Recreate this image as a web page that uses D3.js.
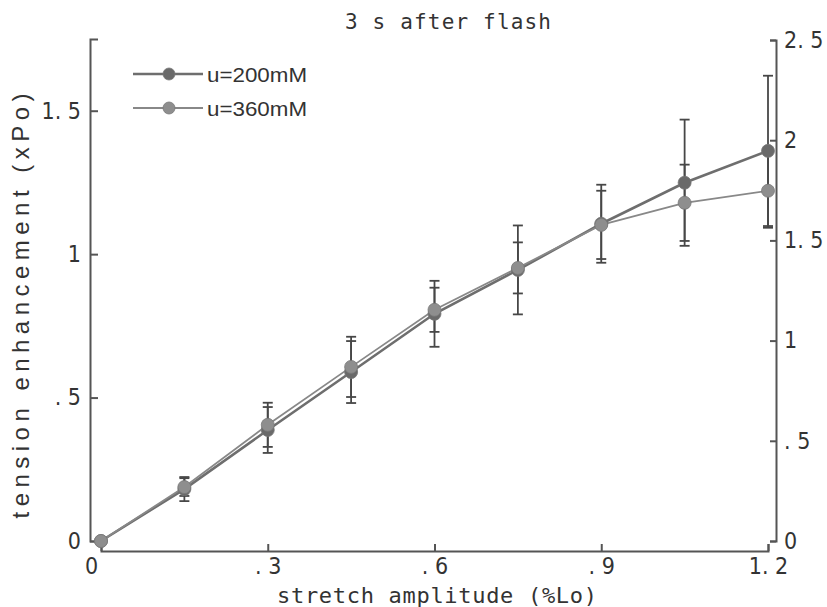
<!DOCTYPE html>
<html>
<head>
<meta charset="utf-8">
<script src="https://cdn.jsdelivr.net/npm/d3@7"></script>
<style>
  body { margin: 0; background: #fff; }
  .tick text { fill: #333; font-family: "Liberation Sans Narrow", "DejaVu Sans Condensed", "Liberation Sans", sans-serif; font-size: 23px; }
  .domain, .tick line { stroke: #555; stroke-width: 2; }
</style>
</head>
<body>
<div id="chart"></div>
<script>
// stretch amplitude (%Lo)
const amplitude = [0, 0.15, 0.3, 0.45, 0.6, 0.75, 0.9, 1.05, 1.2];
// tension enhancement (xPo), u=200mM
const mean200 = [0, 0.181, 0.387, 0.589, 0.792, 0.945, 1.106, 1.249, 1.360];
const err200  = [0, 0.042, 0.080, 0.108, 0.115, 0.155, 0.136, 0.220, 0.262];
// u=360mM
const mean360 = [0, 0.188, 0.405, 0.607, 0.806, 0.952, 1.102, 1.179, 1.221];
const err360  = [0, 0.031, 0.077, 0.105, 0.077, 0.089, 0.119, 0.133, 0.129];

const xTicks = [0, 0.3, 0.6, 0.9, 1.2];
const xTickLabels = ["0", ". 3", ". 6", ". 9", "1. 2"];
const yTicks = [0, 0.5, 1, 1.5];
const yTickLabels = ["0", ". 5", "1", "1. 5"];
const y2Ticks = [0, 0.5, 1, 1.5, 2, 2.5];
const y2TickLabels = ["0", ". 5", "1", "1. 5", "2", "2. 5"];

const seriesNames = ["u=200mM", "u=360mM"];
const markerColors = ["#6a6a6a", "#8e8e8e"];
const lineColors = ["#6e6e6e", "#888888"];
const lineWidths = [2.6, 1.8];

const width = 827, height = 607;
const plotLeft = 101, plotRight = 768, plotTop = 39, plotBottom = 541;
const leftAxisX = 90, rightAxisX = 776, bottomAxisY = 551;

const x = d3.scaleLinear().domain([0, 1.2]).range([plotLeft, plotRight]);
const y = d3.scaleLinear().domain([0, 1.75]).range([plotBottom, plotTop]);
const y2 = d3.scaleLinear().domain([0, 2.5]).range([plotBottom, plotTop + 1]);

const svg = d3.select("#chart").append("svg")
    .attr("width", width)
    .attr("height", height);

// axes (detached, old plotting-package style)
svg.append("g")
    .attr("transform", "translate(" + leftAxisX + ",0)")
    .call(d3.axisLeft(y).tickValues(yTicks)
        .tickFormat(function(d, i) { return yTickLabels[i]; })
        .tickSizeInner(-8).tickSizeOuter(-8).tickPadding(9));

svg.append("g")
    .attr("transform", "translate(" + rightAxisX + ",0)")
    .call(d3.axisRight(y2).tickValues(y2Ticks)
        .tickFormat(function(d, i) { return y2TickLabels[i]; })
        .tickSizeInner(-6).tickSizeOuter(-6).tickPadding(8));

var xAxis = svg.append("g")
    .attr("transform", "translate(0," + bottomAxisY + ")")
    .call(d3.axisBottom(x).tickValues(xTicks)
        .tickFormat(function(d, i) { return xTickLabels[i]; })
        .tickSizeInner(-7).tickSizeOuter(-7).tickPadding(7));
// the zero label sits a little left of its tick in the original
xAxis.selectAll(".tick text").filter(function(d) { return d === 0; }).attr("dx", -10);

svg.selectAll(".domain").attr("fill", "none");

// titles
svg.append("text")
    .attr("x", 448).attr("y", 29)
    .attr("text-anchor", "middle")
    .attr("font-family", "DejaVu Sans Mono, monospace")
    .attr("font-size", 21)
    .attr("fill", "#333")
    .attr("textLength", 206).attr("lengthAdjust", "spacing")
    .text("3 s after flash");

svg.append("text")
    .attr("x", 437).attr("y", 603)
    .attr("text-anchor", "middle")
    .attr("font-family", "DejaVu Sans Mono, monospace")
    .attr("font-size", 22)
    .attr("fill", "#333")
    .attr("textLength", 320).attr("lengthAdjust", "spacing")
    .text("stretch amplitude (%Lo)");

svg.append("text")
    .attr("transform", "translate(29,306) rotate(-90)")
    .attr("text-anchor", "middle")
    .attr("font-family", "Liberation Sans, Arial, sans-serif")
    .attr("font-size", 24)
    .attr("fill", "#333")
    .attr("textLength", 425).attr("lengthAdjust", "spacing")
    .text("tension enhancement (xPo)");

var series = [
    { name: seriesNames[0], mean: mean200, err: err200 },
    { name: seriesNames[1], mean: mean360, err: err360 }
];

// error bars
series.forEach(function(s) {
    var pts = amplitude.map(function(a, i) { return { a: a, m: s.mean[i], e: s.err[i] }; })
                       .filter(function(p) { return p.e > 0; });
    var g = svg.append("g").attr("stroke", "#474747").attr("stroke-width", 1.8);
    g.selectAll("line.bar").data(pts).join("line")
        .attr("x1", function(d) { return x(d.a); })
        .attr("x2", function(d) { return x(d.a); })
        .attr("y1", function(d) { return y(d.m - d.e); })
        .attr("y2", function(d) { return y(d.m + d.e); });
    [-1, 1].forEach(function(sign) {
        g.selectAll("line.cap" + sign).data(pts).join("line")
            .attr("x1", function(d) { return x(d.a) - 5; })
            .attr("x2", function(d) { return x(d.a) + 5; })
            .attr("y1", function(d) { return y(d.m + sign * d.e); })
            .attr("y2", function(d) { return y(d.m + sign * d.e); });
    });
});

// lines
var line = d3.line()
    .x(function(d) { return x(d[0]); })
    .y(function(d) { return y(d[1]); });

series.forEach(function(s, k) {
    svg.append("path")
        .datum(amplitude.map(function(a, i) { return [a, s.mean[i]]; }))
        .attr("fill", "none")
        .attr("stroke", lineColors[k])
        .attr("stroke-width", lineWidths[k])
        .attr("d", line);
});

// markers
series.forEach(function(s, k) {
    svg.append("g").selectAll("circle")
        .data(amplitude.map(function(a, i) { return [a, s.mean[i]]; }))
        .join("circle")
        .attr("cx", function(d) { return x(d[0]); })
        .attr("cy", function(d) { return y(d[1]); })
        .attr("r", 6.5)
        .attr("fill", markerColors[k])
        .attr("stroke", "#777")
        .attr("stroke-width", 0.8);
});

// legend
var legend = svg.append("g").attr("transform", "translate(133,74)");
seriesNames.forEach(function(name, k) {
    var row = legend.append("g").attr("transform", "translate(0," + (k * 34) + ")");
    row.append("line")
        .attr("x1", 0).attr("x2", 70)
        .attr("stroke", lineColors[k]).attr("stroke-width", lineWidths[k]);
    row.append("circle")
        .attr("cx", 36).attr("r", 6)
        .attr("fill", markerColors[k]).attr("stroke", "#777").attr("stroke-width", 0.8);
    row.append("text")
        .attr("x", 74).attr("y", 8)
        .attr("font-family", "Liberation Sans, Arial, sans-serif")
        .attr("font-size", 21)
        .attr("fill", "#333")
        .attr("textLength", 100).attr("lengthAdjust", "spacingAndGlyphs")
        .text(name);
});
</script>
</body>
</html>
